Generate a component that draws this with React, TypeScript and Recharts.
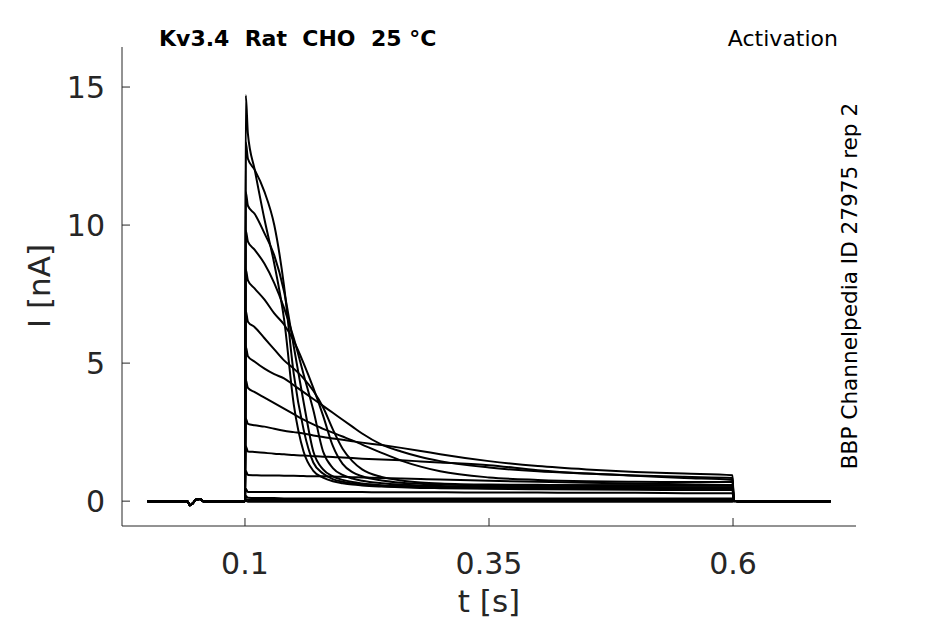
import React from "react";
import { LineChart, Line, XAxis, YAxis } from "recharts";

// sample times (s) before and during the voltage step
const preTimes = [0, 0.041, 0.0436, 0.0465, 0.0498, 0.054, 0.057];
const stepTimes = [
  0.1, 0.1008, 0.103, 0.11, 0.12, 0.13, 0.14, 0.15, 0.16, 0.17, 0.18, 0.19, 0.2,
  0.21, 0.22, 0.24, 0.26, 0.28, 0.3, 0.35, 0.4, 0.45, 0.5, 0.55, 0.5995, 0.6008,
  0.605, 0.7,
];

// holding current before the step (shared by every sweep)
const preValues = [0, 0, -0.15, -0.08, 0.05, 0.08, 0];

// current (nA) for each sweep, from the highest step down
const sweep1 = [0, 14.7, 13.3, 12.0, 10.2, 8.6, 6.6, 3.5, 1.8, 1.1, 0.85, 0.72, 0.65, 0.6, 0.57, 0.53, 0.5, 0.48, 0.47, 0.45, 0.43, 0.42, 0.41, 0.4, 0.4, 0.02, 0, 0];
const sweep2 = [0, 13.0, 12.4, 12.0, 11.2, 10.0, 7.8, 4.6, 2.6, 1.4, 1.0, 0.8, 0.7, 0.64, 0.6, 0.55, 0.52, 0.5, 0.49, 0.47, 0.46, 0.45, 0.44, 0.44, 0.44, 0.02, 0, 0];
const sweep3 = [0, 11.2, 10.7, 10.4, 9.7, 8.9, 7.6, 5.6, 3.6, 1.8, 1.15, 0.9, 0.77, 0.69, 0.64, 0.58, 0.55, 0.53, 0.52, 0.51, 0.5, 0.5, 0.5, 0.5, 0.5, 0.02, 0, 0];
const sweep4 = [0, 9.8, 9.4, 9.1, 8.6, 7.9, 7.0, 5.9, 4.6, 3.3, 1.8, 1.2, 0.95, 0.82, 0.74, 0.65, 0.6, 0.57, 0.55, 0.53, 0.52, 0.51, 0.51, 0.5, 0.5, 0.02, 0, 0];
const sweep5 = [0, 8.4, 8.0, 7.7, 7.3, 6.8, 6.4, 5.8, 5.0, 4.1, 3.1, 2.0, 1.35, 1.05, 0.9, 0.75, 0.67, 0.63, 0.6, 0.58, 0.58, 0.58, 0.58, 0.58, 0.58, 0.02, 0, 0];
const sweep6 = [0, 6.9, 6.5, 6.3, 5.9, 5.5, 5.1, 4.8, 4.45, 4.0, 3.4, 2.6, 1.9, 1.45, 1.15, 0.88, 0.75, 0.68, 0.64, 0.6, 0.59, 0.58, 0.58, 0.58, 0.58, 0.02, 0, 0];
const sweep7 = [0, 5.6, 5.25, 5.05, 4.8, 4.6, 4.45, 4.2, 3.95, 3.7, 3.45, 3.2, 2.95, 2.7, 2.45, 2.05, 1.8, 1.6, 1.45, 1.22, 1.08, 1.0, 0.93, 0.88, 0.84, 0.02, 0, 0];
const sweep8 = [0, 4.4, 4.1, 3.95, 3.75, 3.55, 3.35, 3.15, 2.95, 2.78, 2.62, 2.48, 2.34, 2.2, 2.05, 1.75, 1.47, 1.25, 1.08, 0.86, 0.77, 0.72, 0.7, 0.69, 0.69, 0.02, 0, 0];
const sweep9 = [0, 3.0, 2.8, 2.75, 2.7, 2.62, 2.55, 2.5, 2.45, 2.38, 2.32, 2.27, 2.22, 2.17, 2.12, 2.03, 1.93, 1.82, 1.7, 1.45, 1.27, 1.15, 1.06, 1.0, 0.94, 0.02, 0, 0];
const sweep10 = [0, 2.0, 1.8, 1.78, 1.75, 1.72, 1.7, 1.67, 1.65, 1.63, 1.61, 1.6, 1.58, 1.56, 1.54, 1.51, 1.48, 1.44, 1.4, 1.3, 1.12, 1.0, 0.92, 0.84, 0.77, 0.02, 0, 0];
const sweep11 = [0, 1.1, 0.95, 0.94, 0.93, 0.93, 0.92, 0.92, 0.91, 0.9, 0.9, 0.89, 0.88, 0.87, 0.86, 0.84, 0.82, 0.8, 0.78, 0.74, 0.7, 0.67, 0.64, 0.61, 0.58, 0.02, 0, 0];
const sweep12 = [0, 0.45, 0.33, 0.33, 0.33, 0.33, 0.33, 0.33, 0.33, 0.33, 0.33, 0.33, 0.33, 0.33, 0.33, 0.32, 0.32, 0.32, 0.32, 0.31, 0.31, 0.3, 0.3, 0.29, 0.29, 0.01, 0, 0];
const sweep13 = [0, 0.2, 0.12, 0.11, 0.11, 0.11, 0.1, 0.1, 0.1, 0.1, 0.1, 0.1, 0.1, 0.1, 0.1, 0.1, 0.1, 0.1, 0.1, 0.1, 0.1, 0.1, 0.1, 0.1, 0.1, 0, 0, 0];
const sweep14 = [0, 0.08, 0.04, 0.04, 0.04, 0.04, 0.04, 0.04, 0.04, 0.04, 0.04, 0.04, 0.04, 0.04, 0.04, 0.04, 0.04, 0.04, 0.04, 0.04, 0.04, 0.04, 0.04, 0.04, 0.04, 0, 0, 0];
const sweep15 = [0, 0.02, -0.02, -0.02, -0.02, -0.02, -0.02, -0.02, -0.02, -0.02, -0.02, -0.02, -0.02, -0.02, -0.02, -0.02, -0.02, -0.02, -0.02, -0.02, -0.02, -0.02, -0.02, -0.02, -0.02, 0, 0, 0];

const sweeps = [
  sweep1, sweep2, sweep3, sweep4, sweep5, sweep6, sweep7, sweep8,
  sweep9, sweep10, sweep11, sweep12, sweep13, sweep14, sweep15,
];

const xTicks = [0.1, 0.35, 0.6];
const yTicks = [0, 5, 10, 15];

const times = [...preTimes, ...stepTimes];
const data = times.map((t, i) => {
  const row: Record<string, number> = { t };
  sweeps.forEach((s, k) => {
    row["s" + k] = i < preTimes.length ? preValues[i] : s[i - preTimes.length];
  });
  return row;
});

const axisColor = "#262626";
const font = "DejaVu Sans";

const XTick = (props: any) => {
  const { x, y, payload } = props;
  return (
    <g>
      <line x1={x} x2={x} y1={y} y2={y - 8} stroke={axisColor} strokeWidth={1} />
      <text x={x} y={y + 48} textAnchor="middle" fontSize={30} fontFamily={font} fill={axisColor}>
        {payload.value}
      </text>
    </g>
  );
};

const YTick = (props: any) => {
  const { x, y, payload } = props;
  return (
    <g>
      <line x1={x} x2={x + 8} y1={y} y2={y} stroke={axisColor} strokeWidth={1} />
      <text x={x - 17} y={y + 11} textAnchor="end" fontSize={30} fontFamily={font} fill={axisColor}>
        {payload.value}
      </text>
    </g>
  );
};

export default function App() {
  return (
    <div style={{ position: "absolute", left: 0, top: 0, width: 945, height: 624, background: "#fff" }}>
      <LineChart
        width={945}
        height={624}
        data={data}
        margin={{ top: 47, right: 89, left: 62, bottom: 38 }}
      >
        <XAxis
          dataKey="t"
          type="number"
          domain={[-0.026, 0.726]}
          ticks={xTicks}
          tick={<XTick />}
          tickLine={false}
          tickSize={0}
          tickMargin={0}
          height={60}
          allowDataOverflow
          stroke={axisColor}
        />
        <YAxis
          type="number"
          domain={[-0.9, 16.45]}
          ticks={yTicks}
          tick={<YTick />}
          tickLine={false}
          tickSize={0}
          tickMargin={0}
          width={60}
          allowDataOverflow
          stroke={axisColor}
        />
        {sweeps.map((_, k) => (
          <Line
            key={k}
            type="monotone"
            dataKey={"s" + k}
            stroke="#000"
            strokeWidth={2}
            dot={false}
            activeDot={false}
            isAnimationActive={false}
          />
        ))}
      </LineChart>
      <svg
        width={945}
        height={624}
        style={{ position: "absolute", left: 0, top: 0, pointerEvents: "none" }}
      >
        <text x={159} y={46} fontSize={22} fontWeight="bold" fontFamily={font} fill="#000" style={{ whiteSpace: "pre" }}>
          {"Kv3.4  Rat  CHO  25 °C"}
        </text>
        <text x={838} y={46} textAnchor="end" fontSize={22} fontFamily={font} fill="#000">
          Activation
        </text>
        <text
          x={857}
          y={286}
          textAnchor="middle"
          fontSize={21.6}
          fontFamily={font}
          fill="#000"
          transform="rotate(-90 857 286)"
        >
          BBP Channelpedia ID 27975 rep 2
        </text>
        <text
          x={50}
          y={286}
          textAnchor="middle"
          fontSize={31}
          fontFamily={font}
          fill={axisColor}
          transform="rotate(-90 50 286)"
        >
          I [nA]
        </text>
        <text x={489} y={612} textAnchor="middle" fontSize={31} fontFamily={font} fill={axisColor}>
          t [s]
        </text>
      </svg>
    </div>
  );
}
